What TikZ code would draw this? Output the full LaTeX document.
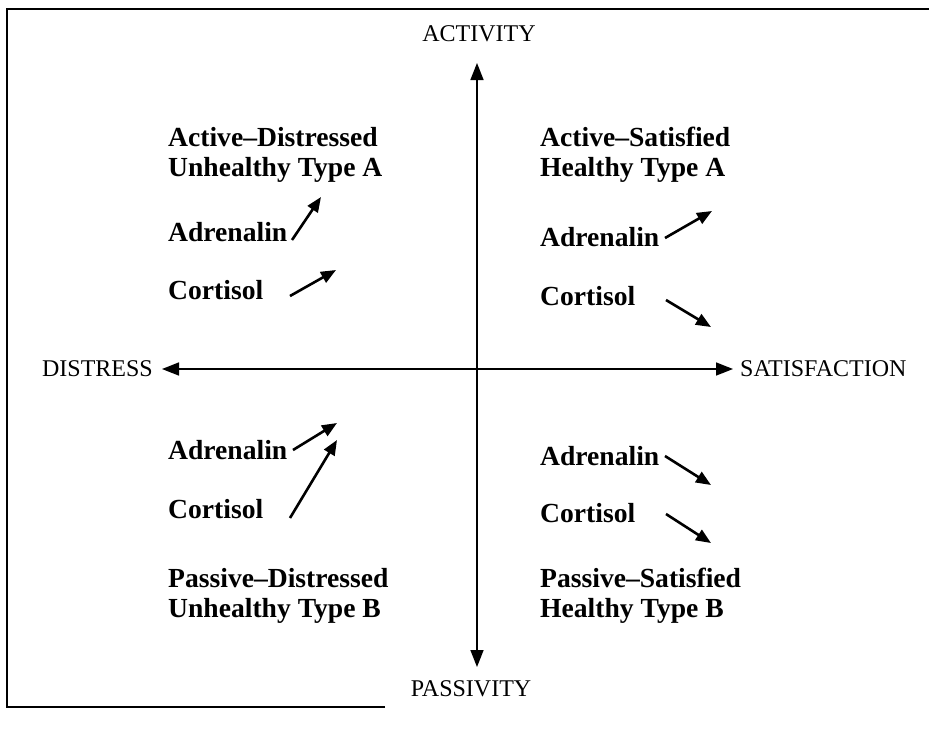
\documentclass[tikz,border=0pt]{standalone}
\usepackage{fontspec}
\setmainfont{Liberation Serif}
\usetikzlibrary{arrows.meta}
\begin{document}
\begin{tikzpicture}[x=1pt,y=-1pt,
  axislabel/.style={font=\fontsize{24}{28}\selectfont, inner sep=0pt, anchor=base},
  quadtext/.style={font=\fontsize{27.6}{30}\selectfont\bfseries, inner sep=0pt, anchor=base west, align=left},
  axisline/.style={line width=1.6pt, {Triangle[length=17pt,width=13pt]}-{Triangle[length=17pt,width=13pt]}},
  trend/.style={line width=2.6pt, -{Triangle[length=15pt,width=12pt]}},
  frame/.style={line width=2pt}]
\useasboundingbox (0,0) rectangle (929,729);

% open frame
\draw[frame] (385,707) -- (7,707) -- (7,9) -- (929,9);

% axes
\coordinate (top) at (477,63);
\coordinate (bottom) at (477,667);
\coordinate (left) at (162,369);
\coordinate (right) at (733,369);
\draw[axisline] (bottom) -- (top);
\draw[axisline] (left) -- (right);

\node[axislabel] (act) at (479,41) {ACTIVITY};
\node[axislabel] (pas) at (471,696) {PASSIVITY};
\node[axislabel, anchor=base east] (dis) at (153,376) {DISTRESS};
\node[axislabel, anchor=base west] (sat) at (740,376) {SATISFACTION};

% upper left quadrant
\node[quadtext] (tlhead) at (168,146) {Active--Distressed};
\node[quadtext] (tlsub) at (168,176) {Unhealthy Type A};
\node[quadtext] (tladr) at (168,241) {Adrenalin};
\node[quadtext] (tlcor) at (168,299) {Cortisol};

% upper right quadrant
\node[quadtext] (trhead) at (540,146) {Active--Satisfied};
\node[quadtext] (trsub) at (540,176) {Healthy Type A};
\node[quadtext] (tradr) at (540,246) {Adrenalin};
\node[quadtext] (trcor) at (540,305) {Cortisol};

% lower left quadrant
\node[quadtext] (bladr) at (168,459) {Adrenalin};
\node[quadtext] (blcor) at (168,518) {Cortisol};
\node[quadtext] (blhead) at (168,587) {Passive--Distressed};
\node[quadtext] (blsub) at (168,617) {Unhealthy Type B};

% lower right quadrant
\node[quadtext] (bradr) at (540,465) {Adrenalin};
\node[quadtext] (brcor) at (540,522) {Cortisol};
\node[quadtext] (brhead) at (540,587) {Passive--Satisfied};
\node[quadtext] (brsub) at (540,617) {Healthy Type B};

% hormone trend arrows
\coordinate (a1s) at (292,240); \coordinate (a1e) at (321,197);
\coordinate (c1s) at (290,296); \coordinate (c1e) at (336,270);
\coordinate (a2s) at (665,238); \coordinate (a2e) at (712,211);
\coordinate (c2s) at (666,300); \coordinate (c2e) at (711,327);
\coordinate (a3s) at (293,450); \coordinate (a3e) at (337,423);
\coordinate (c3s) at (290,518); \coordinate (c3e) at (337,440);
\coordinate (a4s) at (665,456); \coordinate (a4e) at (711,485);
\coordinate (c4s) at (666,514); \coordinate (c4e) at (711,543);
\foreach \p in {a1,c1,a2,c2,a3,c3,a4,c4}
  \draw[trend] (\p s) -- (\p e);
\end{tikzpicture}
\end{document}
